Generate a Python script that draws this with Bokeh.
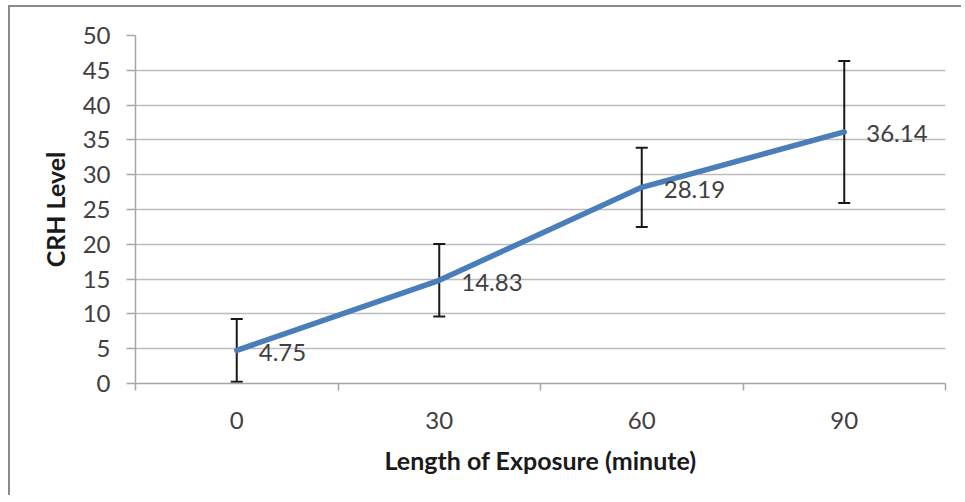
from bokeh.plotting import figure
from bokeh.models import Range1d, FixedTicker, ColumnDataSource, Whisker, TeeHead
from bokeh.core.properties import value
from bokeh.embed import file_html
from bokeh.resources import INLINE

# data
exposure = [0, 30, 60, 90]
x_labels = ["0", "30", "60", "90"]
crh_level = [4.75, 14.83, 28.19, 36.14]
crh_err = [4.5, 5.2, 5.7, 10.2]
y_ticks = [0, 5, 10, 15, 20, 25, 30, 35, 40, 45, 50]
category_bounds = [-15, 15, 45, 75, 105]

lower = [v - e for v, e in zip(crh_level, crh_err)]
upper = [v + e for v, e in zip(crh_level, crh_err)]
point_labels = ["%.2f" % v for v in crh_level]

src = ColumnDataSource(dict(x=exposure, y=crh_level, lo=lower, hi=upper, lab=point_labels))

FONT = "Lato"

p = figure(width=953, height=490, output_backend="svg", toolbar_location=None,
           x_range=Range1d(category_bounds[0], category_bounds[-1]),
           y_range=Range1d(y_ticks[0], y_ticks[-1]),
           min_border_left=125, min_border_right=18, min_border_top=28, min_border_bottom=114)
p.styles = {"border-left": "2px solid #8a8a8a", "border-top": "2px solid #8a8a8a",
            "margin-left": "8px", "margin-top": "5px"}
p.outline_line_color = None
p.background_fill_color = "white"
p.border_fill_color = "white"

# grid
p.xgrid.visible = False
p.ygrid.ticker = FixedTicker(ticks=y_ticks)
p.ygrid.grid_line_color = "#bdbdbd"
p.ygrid.grid_line_width = 1.5

# x axis
xa = p.xaxis[0]
xa.ticker = FixedTicker(ticks=exposure, minor_ticks=category_bounds)
xa.major_label_overrides = {x: l for x, l in zip(exposure, x_labels)}
xa.major_tick_out = 0
xa.major_tick_in = 0
xa.minor_tick_out = 7
xa.minor_tick_in = 0
xa.minor_tick_line_color = "#a6a6a6"
xa.minor_tick_line_width = 1.5
xa.axis_line_color = "#a6a6a6"
xa.axis_line_width = 1.5
xa.major_label_text_font = FONT
xa.major_label_text_font_size = "24px"
xa.major_label_text_color = "#404040"
xa.major_label_standoff = 21
xa.axis_label = "Length of Exposure (minute)"
xa.axis_label_text_font = FONT
xa.axis_label_text_font_style = "bold"
xa.axis_label_text_font_size = "25px"
xa.axis_label_text_color = "#1a1a1a"
xa.axis_label_standoff = 13

# y axis
ya = p.yaxis[0]
ya.ticker = FixedTicker(ticks=y_ticks)
ya.major_tick_out = 9
ya.major_tick_in = 0
ya.minor_tick_line_color = None
ya.major_tick_line_color = "#a6a6a6"
ya.major_tick_line_width = 1.5
ya.axis_line_color = "#a6a6a6"
ya.axis_line_width = 1.5
ya.major_label_text_font = FONT
ya.major_label_text_font_size = "24px"
ya.major_label_text_color = "#404040"
ya.major_label_standoff = 16
ya.axis_label = "CRH Level"
ya.axis_label_text_font = FONT
ya.axis_label_text_font_style = "bold"
ya.axis_label_text_font_size = "25px"
ya.axis_label_text_color = "#1a1a1a"
ya.axis_label_standoff = 10

# error bars
w = Whisker(source=src, base="x", lower="lo", upper="hi", dimension="height",
            line_color="#1a1a1a", line_width=2,
            upper_head=TeeHead(size=12, line_color="#1a1a1a", line_width=2),
            lower_head=TeeHead(size=12, line_color="#1a1a1a", line_width=2))
p.add_layout(w)

# line
p.line("x", "y", source=src, line_color="#4a7ebb", line_width=5.5,
       line_cap="round", line_join="round")

# data labels
p.text("x", "y", text="lab", source=src, x_offset=22, y_offset=2,
       text_font=value(FONT), text_font_size="24px", text_color="#404040",
       text_baseline="middle", text_align="left")

open("out.html", "w").write(file_html(p, INLINE))
